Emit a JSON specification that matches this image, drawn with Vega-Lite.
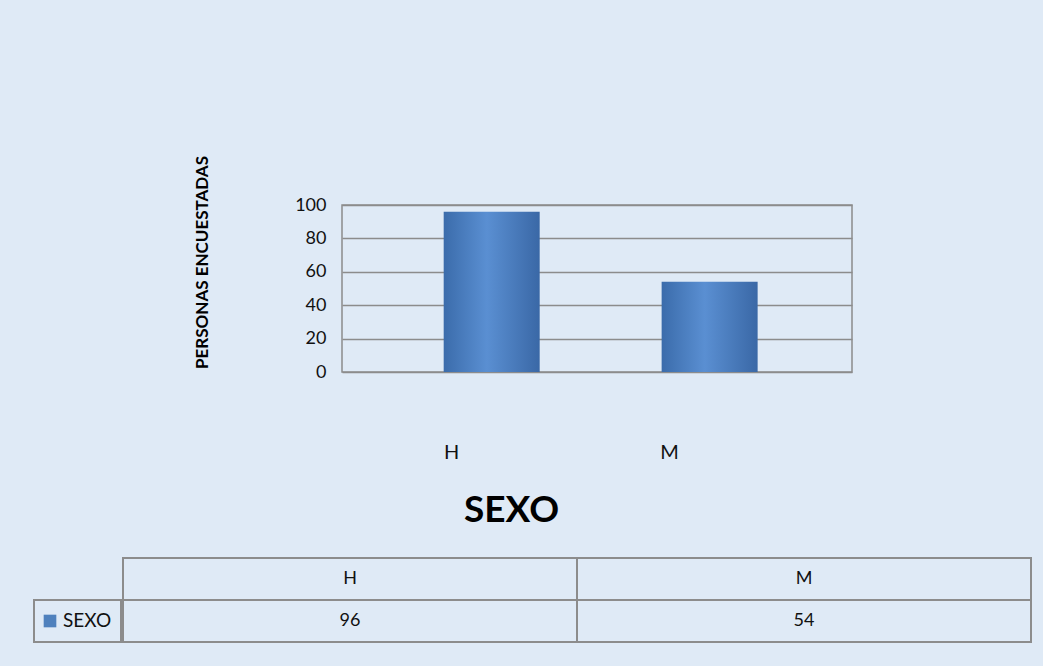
{
  "$schema": "https://vega.github.io/schema/vega-lite/v6.json",
  "background": "#dfeaf6",
  "padding": {"left": 33, "right": 15, "top": 154, "bottom": 25},
  "datasets": {
    "sexo": [
      {"sexo": "H", "personas": 96},
      {"sexo": "M", "personas": 54}
    ]
  },
  "config": {
    "font": "Lato",
    "view": {"stroke": null},
    "text": {"color": "#111111"}
  },
  "spacing": 28,
  "vconcat": [
    {
      "spacing": 0,
      "hconcat": [
        {
          "width": 158,
          "height": 10,
          "data": {"values": [{"vacio": ""}]},
          "mark": {"type": "text", "text": ""},
          "encoding": {}
        },
        {
          "width": 510,
          "height": 167,
          "data": {"name": "sexo"},
          "view": {"stroke": "#8c8c8c", "strokeWidth": 1.5},
          "mark": {
            "type": "bar",
            "size": 96,
            "color": {
              "gradient": "linear",
              "x1": 0, "x2": 1, "y1": 0, "y2": 0,
              "stops": [
                {"offset": 0, "color": "#3b6cab"},
                {"offset": 0.45, "color": "#5a8fd2"},
                {"offset": 1, "color": "#3a68a6"}
              ]
            }
          },
          "encoding": {
            "x": {
              "field": "sexo",
              "type": "nominal",
              "scale": {"paddingInner": 0.5, "paddingOuter": 0.42, "align": 0.52},
              "axis": {
                "title": "SEXO",
                "labelAngle": 0,
                "labelFontSize": 20,
                "labelColor": "#111111",
                "labelPadding": 70,
                "labelOffset": -40,
                "ticks": false,
                "domain": false,
                "titleFontSize": 37,
                "titleFontWeight": "bold",
                "titleColor": "#000000",
                "titleX": 169,
                "titleY": 138,
                "titleBaseline": "middle"
              }
            },
            "y": {
              "field": "personas",
              "type": "quantitative",
              "scale": {"domain": [0, 100], "nice": false},
              "axis": {
                "title": "PERSONAS ENCUESTADAS",
                "values": [0, 20, 40, 60, 80, 100],
                "grid": true,
                "gridColor": "#8c8c8c",
                "gridWidth": 1.5,
                "ticks": false,
                "domain": false,
                "labelFontSize": 18,
                "labelColor": "#111111",
                "labelPadding": 16,
                "titleFontSize": 17,
                "titleFontWeight": "bold",
                "titleColor": "#000000",
                "titleX": -140,
                "titleY": 57,
                "titleBaseline": "middle"
              }
            }
          }
        }
      ]
    },
    {
      "spacing": 0,
      "hconcat": [
        {
          "width": 87,
          "height": 84,
          "data": {"values": [{"serie": "SEXO"}]},
          "encoding": {
            "y": {
              "datum": "valores",
              "type": "nominal",
              "scale": {"domain": ["encabezado", "valores"], "paddingInner": 0, "paddingOuter": 0},
              "axis": null
            }
          },
          "layer": [
            {"mark": {"type": "rect", "filled": false, "color": "#8c8c8c", "strokeWidth": 2}},
            {
              "mark": {"type": "point", "shape": "square", "filled": true, "size": 160, "color": "#4f81bd", "opacity": 1},
              "encoding": {"xOffset": {"value": -27.5}}
            },
            {
              "mark": {"type": "text", "align": "left", "dx": -14.5, "fontSize": 19},
              "encoding": {"text": {"field": "serie"}}
            }
          ]
        },
        {
          "width": 908,
          "height": 84,
          "data": {"name": "sexo"},
          "encoding": {
            "x": {
              "field": "sexo",
              "type": "nominal",
              "scale": {"paddingInner": 0, "paddingOuter": 0},
              "axis": null
            }
          },
          "layer": [
            {
              "mark": {"type": "rect", "filled": false, "color": "#8c8c8c", "strokeWidth": 2},
              "encoding": {
                "y": {
                  "datum": "encabezado",
                  "type": "nominal",
                  "scale": {"domain": ["encabezado", "valores"], "paddingInner": 0, "paddingOuter": 0},
                  "axis": null
                }
              }
            },
            {
              "mark": {"type": "rect", "filled": false, "color": "#8c8c8c", "strokeWidth": 2},
              "encoding": {"y": {"datum": "valores", "type": "nominal"}}
            },
            {
              "mark": {"type": "text", "fontSize": 18},
              "encoding": {
                "y": {"datum": "encabezado", "type": "nominal"},
                "text": {"field": "sexo"}
              }
            },
            {
              "mark": {"type": "text", "fontSize": 18},
              "encoding": {
                "y": {"datum": "valores", "type": "nominal"},
                "text": {"field": "personas"}
              }
            }
          ]
        }
      ]
    }
  ]
}
